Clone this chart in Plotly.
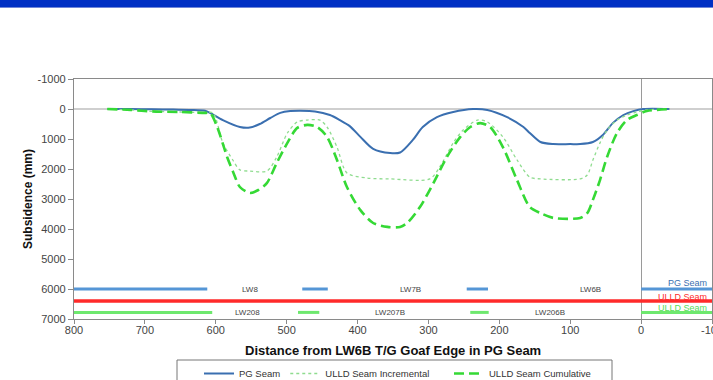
import plotly.graph_objects as go

# Subsidence profiles (distance from LW6B T/G goaf edge in m, subsidence in mm)
pg_dist = [753, 720, 690, 660, 635, 615, 608, 590, 566, 552, 538, 523, 509, 495, 481, 460,
           439, 425, 411, 396, 378, 354, 340, 322, 308, 288, 265, 237, 217, 189, 166, 157,
           142, 124, 100, 86, 68, 54, 40, 25, 11, -3, -40]
pg_subs = [0, 0, 10, 20, 30, 60, 130, 370, 600, 620, 500, 300, 130, 70, 60, 80,
           200, 370, 570, 930, 1330, 1470, 1450, 1030, 600, 270, 100, 0, 30, 270, 600, 800,
           1100, 1170, 1170, 1170, 1100, 870, 470, 200, 70, 0, 0]

inc_dist = [753, 720, 690, 650, 615, 604, 590, 576, 566, 552, 528, 514, 499, 485, 471, 453,
            443, 429, 415, 387, 354, 298, 284, 265, 251, 231, 217, 195, 175, 157, 142, 86,
            76, 68, 58, 48, 34, 20, 6, -8, -40]
inc_subs = [0, 30, 80, 100, 120, 130, 1130, 1700, 2030, 2070, 2070, 1600, 800, 430, 370, 370,
            600, 1270, 2130, 2300, 2330, 2330, 1930, 1130, 700, 370, 430, 930, 1700, 2270, 2330, 2330,
            2200, 1700, 1130, 700, 370, 200, 100, 30, 0]

cum_dist = [753, 720, 690, 650, 615, 608, 598, 584, 575, 566, 552, 540, 528, 514, 499, 485,
            471, 457, 443, 429, 415, 396, 378, 358, 340, 330, 312, 293, 274, 255, 241, 227,
            213, 195, 175, 157, 142, 124, 86, 76, 68, 58, 48, 34, 20, 6, -8, -41]
cum_subs = [0, 30, 80, 100, 130, 130, 600, 1600, 2130, 2600, 2800, 2700, 2470, 1800, 1130, 630,
            530, 600, 930, 1700, 2600, 3370, 3800, 3930, 3930, 3800, 3270, 2470, 1600, 930, 600, 470,
            600, 1270, 2370, 3270, 3470, 3630, 3630, 3470, 3030, 2370, 1600, 800, 370, 200, 70, 0]

# Panel layout strips
pg_level = 6000
ulld_level = 6780
red_level = 6400
pg_segments = [(800, 612), (478, 442), (246, 216), (0, -100)]
ulld_segments = [(800, 605), (484, 454), (241, 215), (0, -100)]
pg_panels = ["LW8", "LW7B", "LW6B"]
pg_panel_pos = [552, 326, 72]
ulld_panels = ["LW208", "LW207B", "LW206B"]
ulld_panel_pos = [555, 354, 129]

x_ticks = [800, 700, 600, 500, 400, 300, 200, 100, 0, -100]
y_ticks = [-1000, 0, 1000, 2000, 3000, 4000, 5000, 6000, 7000]

W, H = 713, 380
L, R, T, B = 74, 1, 79, 61
PW, PH = W - L - R, H - T - B


def px(x):
    return (x - L) / PW


def py(y):
    return (H - B - y) / PH


fig = go.Figure()

# Panel strips
for a, b in pg_segments:
    fig.add_trace(go.Scatter(x=[a, b], y=[pg_level, pg_level], mode="lines",
                             line=dict(color="#5596d6", width=3), showlegend=False, hoverinfo="skip"))
for a, b in ulld_segments:
    fig.add_trace(go.Scatter(x=[a, b], y=[ulld_level, ulld_level], mode="lines",
                             line=dict(color="#6ee86e", width=3), showlegend=False, hoverinfo="skip"))
fig.add_trace(go.Scatter(x=[800, -100], y=[red_level, red_level], mode="lines",
                         line=dict(color="#ff2a2a", width=3.5), showlegend=False, hoverinfo="skip"))

# Subsidence profiles
fig.add_trace(go.Scatter(x=pg_dist, y=pg_subs, mode="lines", name="PG Seam", legend="legend",
                         line=dict(color="#3a6fb0", width=2, shape="spline", smoothing=0.8)))
fig.add_trace(go.Scatter(x=inc_dist, y=inc_subs, mode="lines", name="ULLD Seam Incremental", legend="legend",
                         line=dict(color="#8fdc8f", width=1.3, dash="dot", shape="spline", smoothing=0.8)))
fig.add_trace(go.Scatter(x=cum_dist, y=cum_subs, mode="lines", name="ULLD Seam Cumulative", legend="legend2",
                         line=dict(color="#35d935", width=2.6, dash="10px,5px", shape="spline", smoothing=0.8)))

annotations = []
for name, pos in zip(pg_panels, pg_panel_pos):
    annotations.append(dict(x=pos, y=pg_level, text=name, showarrow=False,
                            font=dict(size=8, color="#444")))
for name, pos in zip(ulld_panels, ulld_panel_pos):
    annotations.append(dict(x=pos, y=ulld_level, text=name, showarrow=False,
                            font=dict(size=8, color="#444")))
annotations += [
    dict(x=-96, y=5800, text="PG Seam", showarrow=False, xanchor="right",
         font=dict(size=9, color="#3a6fb0")),
    dict(x=-96, y=6270, text="ULLD Seam", showarrow=False, xanchor="right",
         font=dict(size=9, color="#ff2a2a")),
    dict(x=-96, y=6630, text="ULLD Seam", showarrow=False, xanchor="right",
         font=dict(size=9, color="#55dd55")),
    dict(xref="paper", yref="paper", x=px(393), y=py(350), xanchor="center", yanchor="middle",
         text="<b>Distance from LW6B T/G Goaf Edge in PG Seam</b>",
         showarrow=False, font=dict(size=13, color="#111")),
    dict(xref="paper", yref="paper", x=px(28), y=py(199), xanchor="center", yanchor="middle",
         text="<b>Subsidence (mm)</b>", textangle=-90,
         showarrow=False, font=dict(size=12, color="#111")),
]

shapes = [
    # header band
    dict(type="rect", xref="paper", yref="paper", x0=px(0), x1=px(W), y0=py(7), y1=py(-2),
         fillcolor="#0030c4", line=dict(width=0), layer="above"),
    dict(type="line", xref="paper", yref="paper", x0=px(0), x1=px(W), y0=py(7.5), y1=py(7.5),
         line=dict(color="#6f86d8", width=1)),
    # legend frame
    dict(type="rect", xref="paper", yref="paper", x0=px(177), x1=px(612), y0=py(384), y1=py(360),
         line=dict(color="#777", width=1), fillcolor="rgba(0,0,0,0)"),
]

legend_style = dict(orientation="h", xanchor="left", yanchor="top",
                    font=dict(size=9.5, color="#333"), bgcolor="rgba(0,0,0,0)", borderwidth=0,
                    itemwidth=30, tracegroupgap=0)

fig.update_layout(
    width=W, height=H,
    margin=dict(l=L, r=R, t=T, b=B, autoexpand=False),
    paper_bgcolor="white", plot_bgcolor="white",
    font=dict(family="Liberation Sans, Arial, sans-serif", color="#333"),
    showlegend=True,
    legend=dict(x=px(199), y=py(359), **legend_style),
    legend2=dict(x=px(449), y=py(359), **legend_style),
    annotations=annotations,
    shapes=shapes,
    xaxis=dict(range=[800, -100], tickmode="array", tickvals=x_ticks,
               ticktext=[str(v) for v in x_ticks],
               showgrid=False, zeroline=True, zerolinecolor="#9a9a9a", zerolinewidth=1,
               showline=True, linecolor="#8a8a8a", linewidth=1.3, mirror=True,
               ticks="outside", ticklen=4, tickcolor="#8a8a8a", ticklabelstandoff=-3,
               ticklabeloverflow="allow",
               tickfont=dict(size=11, color="#444")),
    yaxis=dict(range=[7000, -1000], tickmode="array", tickvals=y_ticks,
               ticktext=[str(v) for v in y_ticks],
               showgrid=False, zeroline=True, zerolinecolor="#cfcfcf", zerolinewidth=2,
               showline=True, linecolor="#8a8a8a", linewidth=1.3, mirror=True,
               ticks="outside", ticklen=5, tickcolor="#8a8a8a",
               tickfont=dict(size=11, color="#444")),
)

fig.write_html("out.html")
